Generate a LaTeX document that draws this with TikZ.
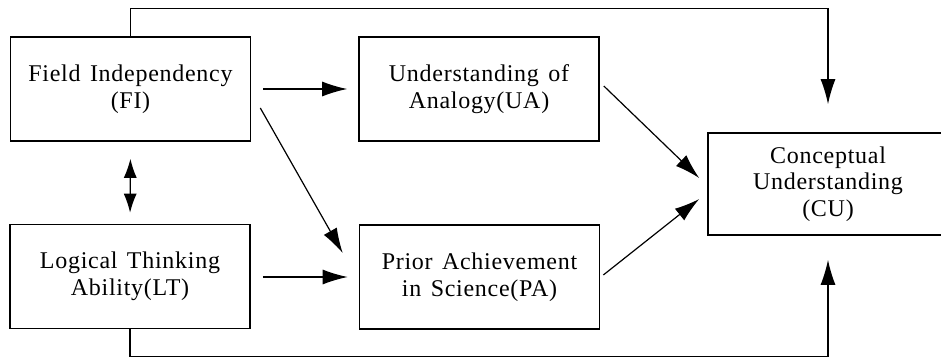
\documentclass[tikz,border=0pt]{standalone}
\usepackage{fontspec}
\setmainfont{Liberation Serif}[LetterSpace=3,WordSpace=1.4]
\usetikzlibrary{arrows.meta}

\begin{document}
\begin{tikzpicture}[x=1pt,y=-1pt,
  box/.style={draw,line width=1.6pt,minimum width=240pt,minimum height=104pt,
    align=center,inner sep=0pt,font=\fontsize{24}{26.5}\selectfont},
  arr/.style={line width=1.2pt,-{Latex[length=25pt,width=15pt]}}]
\clip (0,0) rectangle (941,356);

% Boxes
\node[box] (FI) at (130.5,89) {Field Independency\\(FI)};
\node[box] (LT) at (130,276.5) {Logical Thinking\\Ability(LT)};
\node[box] (UA) at (479,89) {Understanding of\\Analogy(UA)};
\node[box] (PA) at (479.5,277) {Prior Achievement\\in Science(PA)};
\node[box,minimum height=102pt] (CU) at (828,184) {Conceptual\\Understanding\\(CU)};

% Arrows between boxes
\draw[arr,shorten <=12pt,shorten >=11pt] (FI.east) -- (UA.west |- FI.east);
\draw[arr,shorten <=12pt,shorten >=11pt] (LT.east |- PA.west) -- (PA.west);
\draw[arr] ([shift={(9,19)}]FI.east) -- ([shift={(-16,-24)}]PA.west);
\draw[arr,{Latex[length=19pt,width=13pt]}-{Latex[length=19pt,width=13pt]},
  shorten <=17pt,shorten >=11pt] (FI.south) -- (LT.north);
\draw[arr] ([shift={(4,-3)}]UA.east) -- ([shift={(-8,-6)}]CU.west);
\draw[arr] ([shift={(3,-2)}]PA.east) -- ([shift={(-8,15)}]CU.west);

% Direct paths to CU
\draw[arr] (FI.north) -- ++(0,-28) -| ([shift={(0,-28)}]CU.north);
\draw[arr] (LT.south) -- ++(0,27) -| ([shift={(0,24)}]CU.south);
\end{tikzpicture}
\end{document}
